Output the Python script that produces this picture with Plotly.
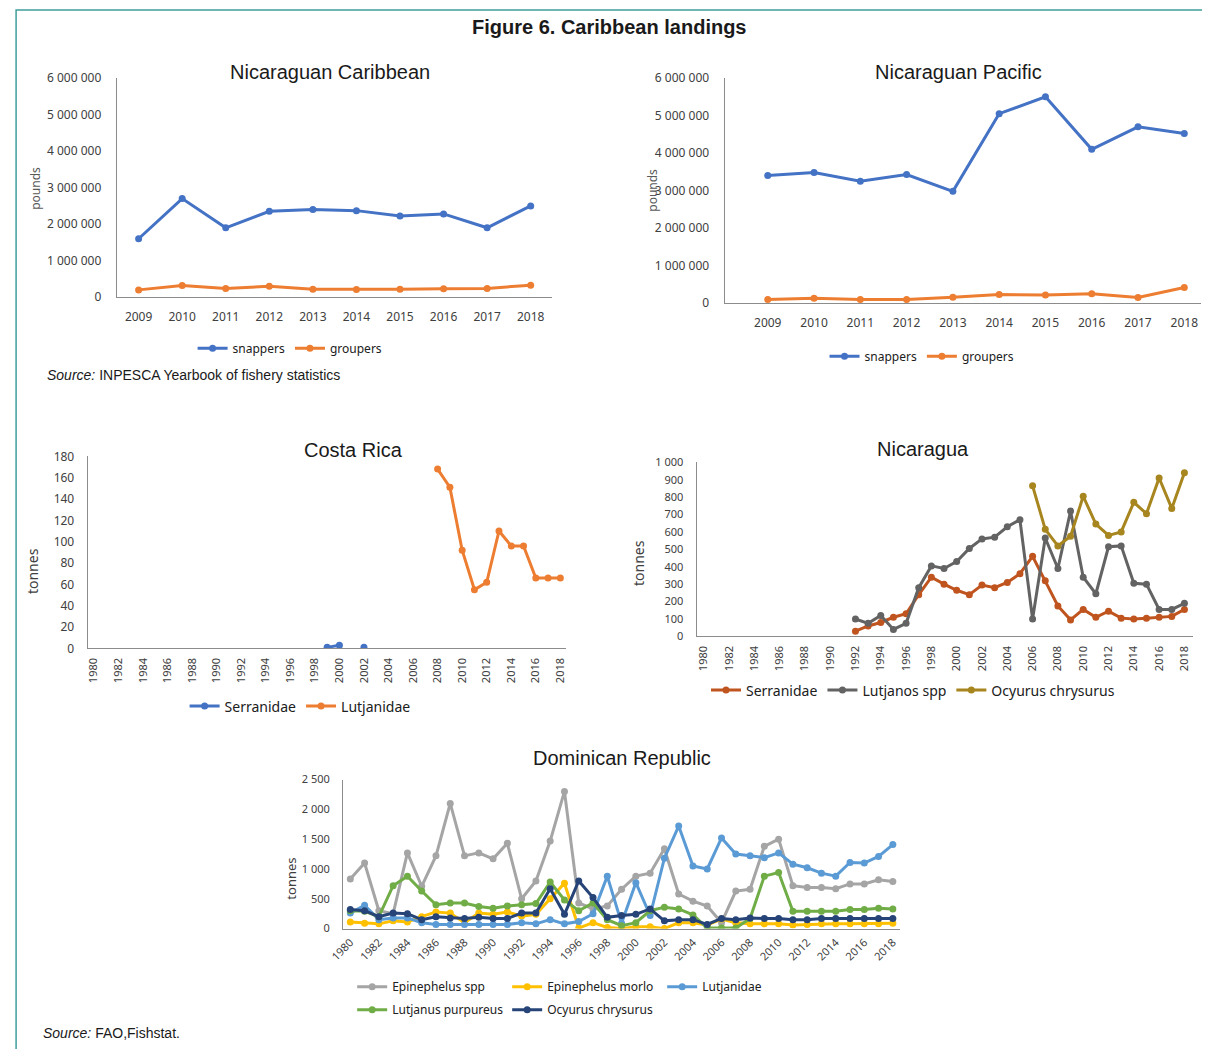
import plotly.graph_objects as go

# figure size; the photographed page maps figure pixel f to picture pixel ~ S*f + O
W, H = 1194, 1041
SX, OX = 0.986, 23.3
SY, OY = 0.983, 17.0

# ---------------- data ----------------
years_nic = list(range(2009, 2019))
nc_snappers = [1600000, 2700000, 1900000, 2350000, 2400000, 2370000, 2220000, 2280000, 1900000, 2500000]
nc_groupers = [200000, 320000, 240000, 300000, 220000, 210000, 220000, 230000, 240000, 330000]

np_snappers = [3400000, 3480000, 3250000, 3430000, 2980000, 5050000, 5500000, 4100000, 4700000, 4520000]
np_groupers = [100000, 130000, 100000, 100000, 160000, 230000, 220000, 250000, 150000, 420000]

years_long = list(range(1980, 2019))

cr_serranidae_years = [1999, 2000, 2001, 2002]
cr_serranidae = [1, 3, None, 1]
cr_lutjanidae_years = list(range(2008, 2019))
cr_lutjanidae = [168, 151, 92, 55, 62, 110, 96, 96, 66, 66, 66]

ni_years = list(range(1992, 2019))
ni_serranidae = [30, 60, 80, 110, 130, 240, 340, 300, 265, 240, 295, 280, 310, 360, 460,
                 320, 175, 95, 155, 110, 145, 105, 100, 105, 110, 115, 155]
ni_lutjanos = [100, 75, 120, 40, 75, 280, 405, 390, 430, 505, 560, 570, 630, 670, 100,
               565, 390, 720, 340, 245, 515, 520, 305, 300, 155, 155, 190]
ni_ocy_years = list(range(2006, 2019))
ni_ocyurus = [865, 615, 520, 575, 805, 645, 580, 600, 770, 705, 910, 735, 940]

dr_epi_spp = [830, 1100, 300, 250, 1270, 710, 1220, 2100, 1220, 1270, 1170, 1430, 500, 800,
              1470, 2300, 430, 330, 380, 660, 880, 930, 1340, 580, 460, 380, 100, 630, 660,
              1380, 1500, 720, 690, 690, 670, 750, 750, 820, 790]
dr_epi_morlo = [110, 90, 80, 130, 110, 200, 280, 260, 100, 260, 240, 280, 210, 240,
                500, 760, 10, 100, 20, 0, 30, 30, 0, 100, 100, 60, 160, 100, 80,
                80, 80, 60, 70, 80, 80, 80, 80, 80, 90]
dr_lutjanidae = [260, 390, 150, 180, 180, 100, 70, 70, 70, 70, 70, 70, 100, 80,
                 150, 80, 120, 250, 880, 90, 770, 220, 1180, 1720, 1050, 1000, 1520, 1250, 1220,
                 1190, 1270, 1080, 1020, 930, 880, 1110, 1100, 1210, 1410]
dr_lut_purpureus = [300, 290, 200, 720, 880, 630, 400, 430, 430, 370, 340, 380, 400, 420,
                    780, 480, 300, 430, 150, 50, 100, 300, 360, 330, 230, 10, 10, 10, 170,
                    880, 940, 290, 290, 290, 290, 320, 320, 340, 330]
dr_ocyurus = [320, 300, 200, 260, 250, 150, 200, 180, 170, 190, 170, 170, 260, 260,
              670, 240, 800, 520, 190, 220, 240, 330, 130, 150, 150, 70, 170, 150, 180,
              170, 170, 150, 150, 170, 170, 170, 170, 170, 170]

# ---------------- styling ----------------
BLUE = "#4472C4"
ORANGE = "#ED7D31"
RUST = "#C0541E"
DGRAY = "#636363"
GOLD = "#A8861F"
LGRAY = "#A5A5A5"
YELLOW = "#FFC000"
LBLUE = "#5B9BD5"
GREEN = "#70AD47"
NAVY = "#264478"

AXCOL = "#8c8c8c"


def clamp(v):
    return max(0.0, min(1.0, v))


def px_x(p):
    return ((p - OX) / SX) / W


def px_y(p):
    return 1 - ((p - OY) / SY) / H


fig = go.Figure()


def add(x, y, name, color, xa, ya, legend, lw=3, ms=7):
    fig.add_trace(go.Scatter(
        x=x, y=y, name=name, mode="lines+markers",
        line=dict(color=color, width=lw),
        marker=dict(color=color, size=ms),
        xaxis=xa, yaxis=ya, legend=legend, connectgaps=False,
        hoverinfo="x+y+name"))


# Panel 1
add(years_nic, nc_snappers, "snappers", BLUE, "x", "y", "legend")
add(years_nic, nc_groupers, "groupers", ORANGE, "x", "y", "legend")
# Panel 2
add(years_nic, np_snappers, "snappers", BLUE, "x2", "y2", "legend2")
add(years_nic, np_groupers, "groupers", ORANGE, "x2", "y2", "legend2")
# Panel 3
add(cr_serranidae_years, cr_serranidae, "Serranidae", BLUE, "x3", "y3", "legend3")
add(cr_lutjanidae_years, cr_lutjanidae, "Lutjanidae", ORANGE, "x3", "y3", "legend3")
# Panel 4
add(ni_years, ni_serranidae, "Serranidae", RUST, "x4", "y4", "legend4")
add(ni_years, ni_lutjanos, "Lutjanos spp", DGRAY, "x4", "y4", "legend4")
add(ni_ocy_years, ni_ocyurus, "Ocyurus chrysurus", GOLD, "x4", "y4", "legend4")
# Panel 5
add(years_long, dr_epi_spp, "Epinephelus spp", LGRAY, "x5", "y5", "legend5")
add(years_long, dr_epi_morlo, "Epinephelus morlo", YELLOW, "x5", "y5", "legend5")
add(years_long, dr_lutjanidae, "Lutjanidae", LBLUE, "x5", "y5", "legend5")
add(years_long, dr_lut_purpureus, "Lutjanus purpureus", GREEN, "x5", "y5", "legend6")
add(years_long, dr_ocyurus, "Ocyurus chrysurus", NAVY, "x5", "y5", "legend6")


def xax(dom, rng, dtick, angle=0, anchor="y", standoff=6, size=11):
    return dict(domain=[clamp(px_x(dom[0])), clamp(px_x(dom[1]))], range=rng, dtick=dtick,
                tick0=1980,
                showgrid=False, zeroline=False, showline=True, linecolor=AXCOL, linewidth=1.3,
                ticks="", tickangle=angle, anchor=anchor, fixedrange=True,
                tickfont=dict(family="Noto Sans", size=size, color="#404040"),
                ticklabelstandoff=standoff)


def yax(dom, rng, dtick, anchor="x", standoff=10, size=11):
    return dict(domain=[clamp(px_y(dom[1])), clamp(px_y(dom[0]))], range=rng, dtick=dtick,
                showgrid=False, zeroline=False, showline=True, linecolor=AXCOL, linewidth=1.3,
                ticks="", anchor=anchor, fixedrange=True, tickformat=",d",
                tickfont=dict(family="Noto Sans", size=size, color="#404040"),
                ticklabelstandoff=standoff)


layout = dict(
    width=W, height=H, margin=dict(l=0, r=0, t=0, b=0),
    paper_bgcolor="white", plot_bgcolor="white",
    separators=". ",
    showlegend=True,
    xaxis=xax((117, 552), [2008.5, 2018.5], 1, anchor="y", standoff=8, size=12),
    yaxis=yax((78, 297), [0, 6000000], 1000000, anchor="x", standoff=12, size=12),
    xaxis2=xax((724, 1200), [2008.07, 2018.37], 1, anchor="y2", standoff=8, size=12),
    yaxis2=yax((78, 303), [0, 6000000], 1000000, anchor="x2", standoff=12, size=12),
    xaxis3=xax((88, 566), [1979.5, 2018.5], 2, angle=-90, anchor="y3", standoff=4),
    yaxis3=yax((456, 648), [0, 180], 20, anchor="x3", standoff=10, size=12),
    xaxis4=xax((696, 1192), [1979.45, 2018.71], 2, angle=-90, anchor="y4", standoff=4),
    yaxis4=yax((462, 636), [0, 1000], 100, anchor="x4", standoff=10),
    xaxis5=xax((343, 899), [1979.5, 2018.5], 2, angle=-45, anchor="y5", standoff=2),
    yaxis5=yax((779, 928), [0, 2500], 500, anchor="x5", standoff=10),
)

LEGFONT_S = dict(family="Noto Sans", size=12, color="#202020")
LEGFONT_L = dict(family="Noto Sans", size=14, color="#202020")


def leg(xc, yc, font, xanchor="center", entrywidth=None):
    d = dict(orientation="h", x=px_x(xc), y=px_y(yc), xanchor=xanchor, yanchor="middle",
             font=font, bgcolor="rgba(0,0,0,0)", itemclick=False, itemdoubleclick=False,
             tracegroupgap=0, itemwidth=30)
    if entrywidth:
        d["entrywidth"] = entrywidth
        d["entrywidthmode"] = "pixels"
    return d


layout["legend"] = leg(290, 348, LEGFONT_S)
layout["legend2"] = leg(921, 356, LEGFONT_S)
layout["legend3"] = leg(300, 706, LEGFONT_L)
layout["legend4"] = leg(912, 690, LEGFONT_L)
layout["legend5"] = leg(352, 986, LEGFONT_S, xanchor="left", entrywidth=110)
layout["legend6"] = leg(352, 1009, LEGFONT_S, xanchor="left", entrywidth=110)

TITLEFONT = dict(family="Liberation Sans", size=20, color="#1a1a1a")
annotations = [
    dict(text="<b>Figure 6. Caribbean landings</b>", x=px_x(609), y=px_y(27),
         font=dict(family="Liberation Sans", size=20, color="#1a1a1a")),
    dict(text="Nicaraguan Caribbean", x=px_x(330), y=px_y(72), font=TITLEFONT),
    dict(text="Nicaraguan Pacific", x=px_x(957), y=px_y(72), font=TITLEFONT),
    dict(text="Costa Rica", x=px_x(353), y=px_y(450), font=TITLEFONT),
    dict(text="Nicaragua", x=px_x(922), y=px_y(449), font=TITLEFONT),
    dict(text="Dominican Republic", x=px_x(621), y=px_y(757), font=TITLEFONT),
    dict(text="pounds", x=px_x(35), y=px_y(188), textangle=-90,
         font=dict(family="Noto Sans", size=12, color="#595959")),
    dict(text="pounds", x=px_x(652), y=px_y(190), textangle=-90,
         font=dict(family="Noto Sans", size=12, color="#595959")),
    dict(text="tonnes", x=px_x(33), y=px_y(571), textangle=-90,
         font=dict(family="Noto Sans", size=14, color="#404040")),
    dict(text="tonnes", x=px_x(638), y=px_y(563), textangle=-90,
         font=dict(family="Noto Sans", size=14, color="#404040")),
    dict(text="tonnes", x=px_x(290), y=px_y(878), textangle=-90,
         font=dict(family="Noto Sans", size=13, color="#404040")),
    dict(text="<i>Source:</i> INPESCA Yearbook of fishery statistics", x=px_x(45), y=px_y(375),
         xanchor="left", font=dict(family="Liberation Sans", size=14, color="#1a1a1a")),
    dict(text="<i>Source:</i> FAO,Fishstat.", x=px_x(41), y=px_y(1032),
         xanchor="left", font=dict(family="Liberation Sans", size=14, color="#1a1a1a")),
]
for a in annotations:
    a.update(xref="paper", yref="paper", showarrow=False)
    a.setdefault("xanchor", "center")
    a.setdefault("yanchor", "middle")
layout["annotations"] = annotations

layout["shapes"] = [dict(type="rect", xref="paper", yref="paper",
                         x0=-7 / W, x1=1.03, y0=-0.03, y1=1 + 7 / H,
                         line=dict(color="#3E9E9C", width=1.5), fillcolor="rgba(0,0,0,0)",
                         layer="below")]

fig.update_layout(**layout)
fig.write_html("out.html")
